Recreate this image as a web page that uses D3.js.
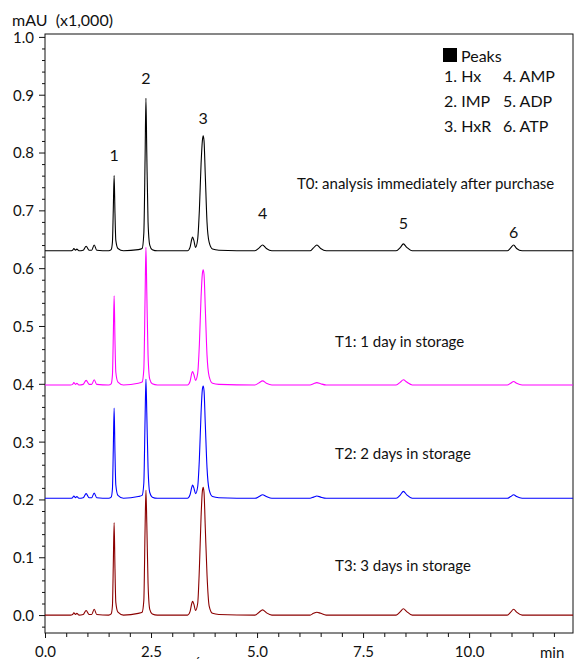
<!DOCTYPE html>
<html>
<head>
<meta charset="utf-8">
<script src="https://cdn.jsdelivr.net/npm/d3@7"></script>
<style>
  body { margin: 0; background: #fff; }
  text { font-family: Lato, "Open Sans", sans-serif; fill: #111; }
</style>
</head>
<body>
<svg id="chart"></svg>
<script>
// retention times (min) shared by all four traces
var times = [
    0.00, 0.60, 0.65, 0.68, 0.72, 0.75, 0.80, 0.90, 0.97, 1.04, 1.10, 1.16, 1.22,
    1.50, 1.56, 1.59, 1.61, 1.63, 1.65, 1.67, 1.72, 1.85,
    2.20, 2.29, 2.33, 2.36, 2.38, 2.40, 2.43, 2.47, 2.53, 2.65,
    3.36, 3.42, 3.46, 3.48, 3.51, 3.55, 3.60, 3.64, 3.68, 3.71, 3.73, 3.75, 3.78, 3.82, 3.87, 3.95, 4.10,
    4.95, 5.05, 5.13, 5.22, 5.35, 6.25, 6.33, 6.41, 6.50, 6.63, 8.28, 8.38, 8.45, 8.53, 8.66, 10.90, 10.98, 11.05, 11.12, 11.25, 12.45
];

// signal, mAU x1,000 (traces are offset as in the original)
var t0 = [
    0.630, 0.630, 0.631, 0.634, 0.631, 0.633, 0.630, 0.631, 0.638, 0.631, 0.631, 0.640, 0.631,
    0.630, 0.632, 0.645, 0.700, 0.760, 0.695, 0.648, 0.634, 0.630,
    0.632, 0.634, 0.660, 0.790, 0.894, 0.800, 0.680, 0.640, 0.632, 0.630,
    0.630, 0.636, 0.650, 0.654, 0.648, 0.636, 0.650, 0.700, 0.780, 0.820, 0.829, 0.820, 0.760, 0.680, 0.645, 0.633, 0.631,
    0.630, 0.635, 0.640, 0.634, 0.630, 0.630, 0.635, 0.640, 0.634, 0.630, 0.630, 0.636, 0.642, 0.636, 0.630, 0.630, 0.635, 0.640, 0.634, 0.630, 0.630
];
var t1 = [
    0.398, 0.398, 0.399, 0.402, 0.399, 0.401, 0.398, 0.399, 0.406, 0.399, 0.399, 0.407, 0.399,
    0.398, 0.400, 0.415, 0.480, 0.552, 0.475, 0.420, 0.403, 0.398,
    0.401, 0.403, 0.425, 0.550, 0.636, 0.560, 0.450, 0.408, 0.400, 0.398,
    0.398, 0.404, 0.418, 0.421, 0.416, 0.406, 0.418, 0.468, 0.550, 0.590, 0.597, 0.589, 0.530, 0.450, 0.413, 0.401, 0.399,
    0.398, 0.402, 0.405, 0.401, 0.398, 0.398, 0.400, 0.402, 0.400, 0.398, 0.398, 0.403, 0.407, 0.403, 0.398, 0.398, 0.401, 0.404, 0.401, 0.398, 0.398
];
var t2 = [
    0.202, 0.202, 0.203, 0.206, 0.203, 0.205, 0.202, 0.203, 0.210, 0.203, 0.203, 0.211, 0.203,
    0.202, 0.204, 0.218, 0.285, 0.358, 0.280, 0.225, 0.207, 0.202,
    0.205, 0.207, 0.228, 0.340, 0.408, 0.350, 0.255, 0.212, 0.204, 0.202,
    0.202, 0.208, 0.221, 0.225, 0.220, 0.210, 0.222, 0.270, 0.350, 0.390, 0.396, 0.388, 0.330, 0.255, 0.217, 0.205, 0.203,
    0.202, 0.205, 0.208, 0.205, 0.202, 0.202, 0.204, 0.206, 0.204, 0.202, 0.202, 0.208, 0.214, 0.208, 0.202, 0.202, 0.205, 0.208, 0.205, 0.202, 0.202
];
var t3 = [
    0.000, 0.000, 0.001, 0.004, 0.001, 0.003, 0.000, 0.001, 0.008, 0.001, 0.001, 0.010, 0.001,
    0.000, 0.002, 0.016, 0.085, 0.160, 0.080, 0.022, 0.005, 0.000,
    0.003, 0.005, 0.025, 0.150, 0.216, 0.160, 0.055, 0.010, 0.002, 0.000,
    0.000, 0.006, 0.020, 0.024, 0.019, 0.008, 0.020, 0.080, 0.170, 0.214, 0.221, 0.212, 0.150, 0.070, 0.016, 0.003, 0.001,
    0.000, 0.005, 0.009, 0.004, 0.000, 0.000, 0.003, 0.005, 0.003, 0.000, 0.000, 0.006, 0.011, 0.006, 0.000, 0.000, 0.005, 0.010, 0.005, 0.000, 0.000
];

var traceNames = ['T0: analysis immediately after purchase', 'T1: 1 day in storage',
                  'T2: 2 days in storage', 'T3: 3 days in storage'];
var traceColors = ['#000000', '#ff00ff', '#0000ff', '#8b0000'];
var traceLabelAt = [[5.94, 0.737], [6.84, 0.464], [6.84, 0.270], [6.84, 0.076]];  // [min, value]

var peakNames = ['1', '2', '3', '4', '5', '6'];
var peakTimes = [1.63, 2.38, 3.73, 5.13, 8.45, 11.05];
var peakLabelY = [0.785, 0.918, 0.849, 0.685, 0.667, 0.653];

var legendItems = [['1. Hx', '2. IMP', '3. HxR'], ['4. AMP', '5. ADP', '6. ATP']];

var yMajor = [0, 0.1, 0.2, 0.3, 0.4, 0.5, 0.6, 0.7, 0.8, 0.9, 1.0];
var xMajor = [0, 2.5, 5, 7.5, 10];

var width = 576, height = 661;
var svg = d3.select('#chart').attr('width', width).attr('height', height);

var x = d3.scaleLinear().domain([0, 12.45]).range([45, 573]);
var y = d3.scaleLinear().domain([-0.031, 1.005]).range([633, 34]);

// minor ticks
var yMinor = d3.range(-0.02, 1.001, 0.02).filter(function(v) {
    return Math.abs(v * 10 - Math.round(v * 10)) > 0.01;
});
var xMinor = d3.range(0, 12.45, 0.5).filter(function(v) { return v % 2.5 !== 0; });

svg.append('g')
    .attr('transform', 'translate(45,0)')
    .call(d3.axisLeft(y).tickValues(yMinor).tickSize(3).tickFormat(''))
    .call(function(g) { g.select('.domain').remove(); });

svg.append('g')
    .attr('transform', 'translate(45,0)')
    .call(d3.axisLeft(y).tickValues(yMajor).tickSize(6).tickFormat(d3.format('.1f')))
    .call(function(g) {
        g.select('.domain').remove();
        g.selectAll('text').style('font-size', '15px').attr('x', -11).attr('dy', '0.36em');
    });

svg.append('g')
    .attr('transform', 'translate(0,633)')
    .call(d3.axisBottom(x).tickValues(xMinor).tickSize(4).tickFormat(''))
    .call(function(g) { g.select('.domain').remove(); });

svg.append('g')
    .attr('transform', 'translate(0,633)')
    .call(d3.axisBottom(x).tickValues(xMajor).tickSize(5).tickFormat(d3.format('.1f')))
    .call(function(g) {
        g.select('.domain').remove();
        g.selectAll('text').style('font-size', '15px').attr('y', 13).attr('dy', '0.71em');
    });

svg.selectAll('.tick line').attr('stroke', '#111');

// frame
svg.append('rect')
    .attr('x', 45).attr('y', 34)
    .attr('width', 573 - 45).attr('height', 633 - 34)
    .attr('fill', 'none').attr('stroke', '#111').attr('stroke-width', 1);

// traces
var line = d3.line()
    .x(function(d) { return x(d[0]); })
    .y(function(d) { return y(d[1]); })
    .curve(d3.curveMonotoneX);

[t0, t1, t2, t3].forEach(function(vals, i) {
    svg.append('path')
        .datum(times.map(function(t, j) { return [t, vals[j]]; }))
        .attr('d', line)
        .attr('fill', 'none')
        .attr('stroke', traceColors[i])
        .attr('stroke-width', 1.1);

    svg.append('text')
        .attr('x', x(traceLabelAt[i][0]))
        .attr('y', y(traceLabelAt[i][1]))
        .text(traceNames[i])
        .style('font-size', '15px');
});

// peak numbers
peakNames.forEach(function(n, i) {
    svg.append('text')
        .attr('x', x(peakTimes[i]))
        .attr('y', y(peakLabelY[i]))
        .attr('text-anchor', 'middle')
        .text(n)
        .style('font-size', '16px');
});

// legend
svg.append('rect').attr('x', 443).attr('y', 48).attr('width', 14).attr('height', 14).attr('fill', '#000');
svg.append('text').attr('x', 461).attr('y', 62).text('Peaks').style('font-size', '16px');
legendItems.forEach(function(col, c) {
    col.forEach(function(s, r) {
        svg.append('text')
            .attr('x', c === 0 ? 444 : 503)
            .attr('y', 82 + r * 25)
            .text(s)
            .style('font-size', '16px');
    });
});

// axis titles
svg.append('text').attr('x', 12).attr('y', 26).text('mAU\u00a0\u00a0(x1,000)').style('font-size', '16px');
svg.append('text').attr('x', 540).attr('y', 658).text('min').style('font-size', '15px');
svg.append('text').attr('x', 195).attr('y', 667).text('\u00b4').style('font-size', '13px');
</script>
</body>
</html>
